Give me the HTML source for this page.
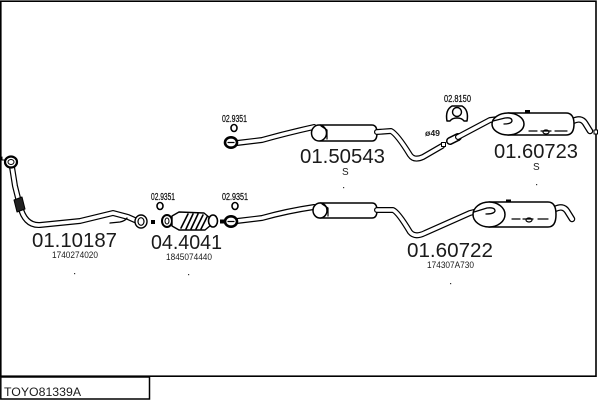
<!DOCTYPE html>
<html><head><meta charset="utf-8"><style>
html,body{margin:0;padding:0;background:#fff;}
svg{display:block;}
text{font-family:"Liberation Sans",Arial,sans-serif;fill:#1a1a1a;}
.sm{fill:#111;stroke:#111;stroke-width:0.25;}
</style></head><body>
<svg width="600" height="400" viewBox="0 0 600 400" xmlns="http://www.w3.org/2000/svg">
<!-- frame -->
<rect x="0.8" y="1.2" width="595.2" height="375" fill="none" stroke="#000" stroke-width="1.6"/>
<rect x="0.8" y="377" width="148.7" height="22" fill="#fff" stroke="#000" stroke-width="1.5"/>
<text x="4" y="396" font-size="12.3">TOYO81339A</text>

<g fill="none" stroke-linecap="round" stroke-linejoin="round">
<!-- ===== FRONT PIPE 01.10187 ===== -->
<path d="M12 167 L15 186 L20 206 Q25 226 40 225 L80 221 L113 213 L128 217 L137 221" stroke="#000" stroke-width="6"/>
<path d="M12 167 L15 186 L20 206 Q25 226 40 225 L80 221 L113 213 L128 217 L137 221" stroke="#fff" stroke-width="3.6"/>
<ellipse cx="11" cy="162" rx="6" ry="5.5" stroke="#000" stroke-width="2.2" fill="#fff"/>
<ellipse cx="11" cy="162" rx="3" ry="2.5" stroke="#000" stroke-width="1"/>
<path d="M2 157 L2 160 L6 160" stroke="#000" stroke-width="1"/>
<path d="M14 200 L22 197 L25 209 L17 212 Z" fill="#222" stroke="#000" stroke-width="1"/>
<path d="M110 223 L120 222 Q125 221 127 218" stroke="#000" stroke-width="1.3"/>
<ellipse cx="141" cy="221.5" rx="6" ry="6.5" stroke="#000" stroke-width="1.4" fill="#fff"/>
<ellipse cx="141" cy="221.5" rx="3" ry="3.8" stroke="#000" stroke-width="1.2"/>
<rect x="151" y="220" width="4" height="4" fill="#000"/>

<!-- catalytic converter -->
<ellipse cx="167" cy="221" rx="5" ry="6" stroke="#000" stroke-width="2" fill="#fff"/>
<ellipse cx="167" cy="221" rx="2" ry="3" stroke="#000" stroke-width="1"/>
<path d="M172 216 L179 212 L204 213 L210 218 L211 225 L205 230 L179 230 L172 226 Z" stroke="#000" stroke-width="1.4" fill="#fff"/>
<path d="M181 228 L188 214 M186 229 L193 214 M191 229 L198 214 M196 229 L203 215 M201 229 L207 217" stroke="#000" stroke-width="1.6"/>
<ellipse cx="213" cy="221" rx="4.5" ry="6" stroke="#000" stroke-width="1.6" fill="#fff"/>
<rect x="220" y="219.5" width="4" height="4" fill="#000"/>

<!-- ===== BOTTOM ROW 01.60722 ===== -->
<path d="M237 221 L262 218 Q287 211 314 207" stroke="#000" stroke-width="6"/>
<path d="M237 221 L262 218 Q287 211 314 207" stroke="#fff" stroke-width="3.6"/>
<ellipse cx="231" cy="221.5" rx="6" ry="5.2" stroke="#000" stroke-width="2.6" fill="#fff"/>
<line x1="228" y1="221.5" x2="234" y2="221.5" stroke="#000" stroke-width="1.2"/>
<!-- mid muffler -->
<path d="M320 203 L372 203 Q377 203 377 210.5 Q377 218 372 218 L320 218" stroke="#000" stroke-width="1.5" fill="#fff"/>
<ellipse cx="320" cy="210.5" rx="7" ry="7.5" stroke="#000" stroke-width="1.5" fill="#fff"/>
<path d="M322 204 L328 208 L328 216" stroke="#000" stroke-width="1.2"/>
<path d="M377 210 L393 210 Q398 212 410 232 Q415 238 425 233 L470 213 L490 208" stroke="#000" stroke-width="6"/>
<path d="M377 210 L393 210 Q398 212 410 232 Q415 238 425 233 L470 213 L490 208" stroke="#fff" stroke-width="3.6"/>
<!-- rear muffler -->
<path d="M555 209 Q563 205 567 211 L572 219" stroke="#000" stroke-width="6.5"/>
<path d="M555 209 Q563 205 567 211 L572 219" stroke="#fff" stroke-width="4"/>
<rect x="506" y="199.5" width="5" height="3" fill="#000"/>
<path d="M489 202 L548 202 Q556 202 556 214.5 Q556 227 548 227 L489 227" stroke="#000" stroke-width="1.5" fill="#fff"/>
<ellipse cx="489" cy="214.5" rx="16" ry="12.5" stroke="#000" stroke-width="1.5" fill="#fff"/>
<path d="M474 212 L487 208 Q495 207 495 211 Q494 214 486 214" stroke="#000" stroke-width="1.3" fill="#fff"/>
<path d="M512 219 L520 219 M523 219 L533 219 M538 219 L548 219" stroke="#000" stroke-width="1.2"/>
<ellipse cx="529" cy="220" rx="3" ry="2" stroke="#000" stroke-width="1.2"/>

<!-- ===== TOP ROW 01.50543 ===== -->
<path d="M237 143 L262 140 Q287 133 314 127" stroke="#000" stroke-width="6"/>
<path d="M237 143 L262 140 Q287 133 314 127" stroke="#fff" stroke-width="3.6"/>
<ellipse cx="231" cy="142.5" rx="6" ry="5.2" stroke="#000" stroke-width="2.6" fill="#fff"/>
<line x1="228" y1="142.5" x2="234" y2="142.5" stroke="#000" stroke-width="1.2"/>
<path d="M320 125 L372 125 Q377 125 377 133 Q377 141 372 141 L320 141" stroke="#000" stroke-width="1.5" fill="#fff"/>
<ellipse cx="319" cy="133" rx="7.5" ry="8" stroke="#000" stroke-width="1.5" fill="#fff"/>
<path d="M321 126 L327 130 L327 139" stroke="#000" stroke-width="1.2"/>
<path d="M377 132 L391 131 Q397 134 410 155 Q414 161 423 157 L442 146" stroke="#000" stroke-width="6"/>
<path d="M377 132 L391 131 Q397 134 410 155 Q414 161 423 157 L442 146" stroke="#fff" stroke-width="3.6"/>
<rect x="441.5" y="142.5" width="4" height="4" stroke="#000" stroke-width="1" fill="#fff"/>
<!-- sleeve and pipe to rear -->
<path d="M450 141 L458 137" stroke="#000" stroke-width="8"/>
<path d="M450 141 L458 137" stroke="#fff" stroke-width="5"/>
<path d="M458 137 L490 120 L507 118" stroke="#000" stroke-width="6"/>
<path d="M458 137 L490 120 L507 118" stroke="#fff" stroke-width="3.6"/>
<!-- rear muffler top -->
<path d="M573 121 Q581 117 585 123 L590 131" stroke="#000" stroke-width="6.5"/>
<path d="M573 121 Q581 117 585 123 L590 131" stroke="#fff" stroke-width="4"/>
<rect x="594" y="130" width="3.5" height="4" stroke="#000" stroke-width="1" fill="#fff"/>
<rect x="525" y="110" width="5" height="3" fill="#000"/>
<path d="M508 113 L566 113 Q574 113 574 124 Q574 135 566 135 L508 135" stroke="#000" stroke-width="1.5" fill="#fff"/>
<ellipse cx="508" cy="124" rx="16" ry="11" stroke="#000" stroke-width="1.5" fill="#fff"/>
<path d="M493 121 L505 118 Q512 117 512 121 Q511 124 504 124" stroke="#000" stroke-width="1.3" fill="#fff"/>
<path d="M529 131 L537 131 M541 131 L551 131 M555 131 L567 131" stroke="#000" stroke-width="1.2"/>
<ellipse cx="546" cy="132" rx="3" ry="2" stroke="#000" stroke-width="1.2"/>

<!-- hanger 02.8150 -->
<path d="M447 121 Q445 110 452 106 L462 106 Q469 110 467 121 L464 121 Q462 118 457 118 Q452 118 450 121 Z" stroke="#000" stroke-width="1.5" fill="#fff"/>
<circle cx="457" cy="112" r="4.5" stroke="#000" stroke-width="1.4" fill="#fff"/>

<!-- rings -->
<ellipse cx="234" cy="128" rx="3" ry="3.5" stroke="#000" stroke-width="1.6"/>
<ellipse cx="160" cy="206" rx="3" ry="3.5" stroke="#000" stroke-width="1.6"/>
<ellipse cx="235" cy="206" rx="3" ry="3.5" stroke="#000" stroke-width="1.6"/>
</g>

<!-- labels -->
<text class="sm" x="222" y="122" font-size="10" textLength="25" lengthAdjust="spacingAndGlyphs">02.9351</text>
<text class="sm" x="151" y="200" font-size="10" textLength="24" lengthAdjust="spacingAndGlyphs">02.9351</text>
<text class="sm" x="222" y="200" font-size="10" textLength="26" lengthAdjust="spacingAndGlyphs">02.9351</text>
<text class="sm" x="444" y="102" font-size="10" textLength="27" lengthAdjust="spacingAndGlyphs">02.8150</text>
<text x="425" y="136" font-size="8" font-weight="bold" textLength="15" lengthAdjust="spacingAndGlyphs">ø49</text>

<text x="300" y="163" font-size="20" textLength="85" lengthAdjust="spacingAndGlyphs">01.50543</text>
<text x="342" y="175" font-size="10">S</text>
<text x="494" y="158" font-size="20" textLength="84" lengthAdjust="spacingAndGlyphs">01.60723</text>
<text x="533" y="170" font-size="10">S</text>

<text x="32" y="247" font-size="20" textLength="85" lengthAdjust="spacingAndGlyphs">01.10187</text>
<text x="52" y="258" font-size="9" textLength="46" lengthAdjust="spacingAndGlyphs">1740274020</text>
<text x="151" y="249" font-size="20" textLength="71" lengthAdjust="spacingAndGlyphs">04.4041</text>
<text x="166" y="260" font-size="9" textLength="46" lengthAdjust="spacingAndGlyphs">1845074440</text>
<text x="407" y="257" font-size="20" textLength="86" lengthAdjust="spacingAndGlyphs">01.60722</text>
<text x="427" y="268" font-size="9" textLength="47" lengthAdjust="spacingAndGlyphs">174307A730</text>

<!-- dots -->
<g fill="#333">
<rect x="74" y="273" width="1.2" height="1.2"/>
<rect x="188" y="274" width="1.2" height="1.2"/>
<rect x="343" y="187" width="1.2" height="1.2"/>
<rect x="536" y="184" width="1.2" height="1.2"/>
<rect x="450" y="283" width="1.2" height="1.2"/>
</g>
</svg>
</body></html>
